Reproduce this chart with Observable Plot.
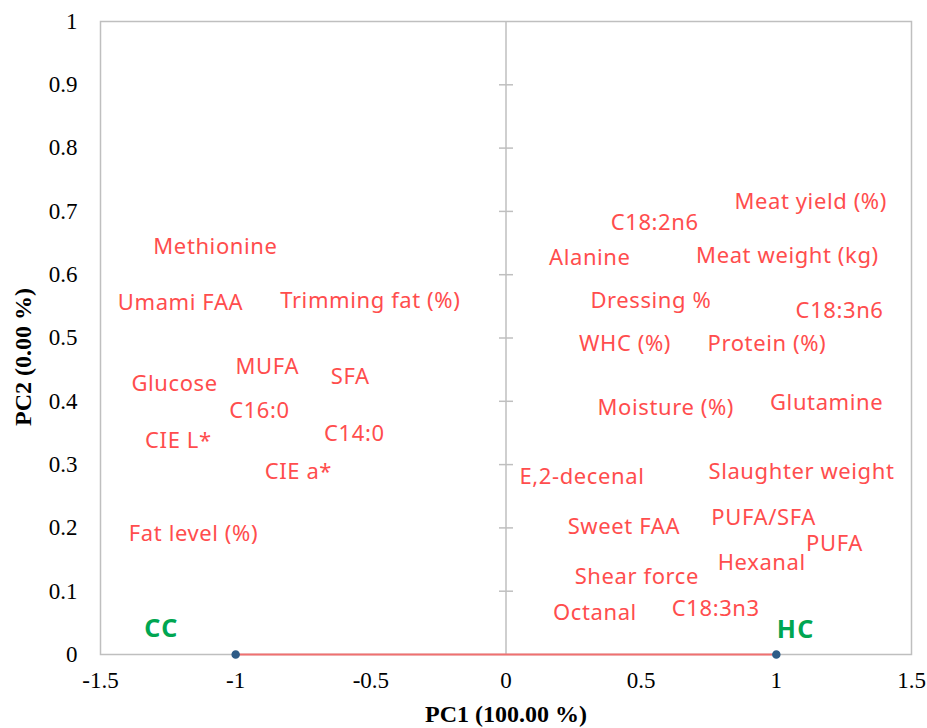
<!DOCTYPE html>
<html>
<head>
<meta charset="utf-8">
<script src="https://cdn.jsdelivr.net/npm/d3@7"></script>
<script src="https://cdn.jsdelivr.net/npm/@observablehq/plot@0.6"></script>
<style>
  html, body { margin: 0; padding: 0; background: #fff; }
  #chart g[fill="#FF4D4D" i] text { letter-spacing: 0.6px; }
  #chart g[fill="#00A651" i] text { letter-spacing: 1.5px; }
</style>
</head>
<body>
<div id="chart"></div>
<script>
// Variable labels (loadings) positions
const varNames = ["Methionine","Umami FAA","Trimming fat (%)","Glucose","MUFA","SFA","C16:0","C14:0","CIE L*","CIE a*","Fat level (%)",
  "Meat yield (%)","C18:2n6","Alanine","Meat weight (kg)","Dressing %","C18:3n6","WHC (%)","Protein (%)","Moisture (%)","Glutamine",
  "E,2-decenal","Slaughter weight","Sweet FAA","PUFA/SFA","PUFA","Hexanal","Shear force","Octanal","C18:3n3"];
const varPC1 = [-1.075,-1.204,-0.502,-1.226,-0.883,-0.576,-0.912,-0.561,-1.212,-0.768,-1.156,
  1.127,0.550,0.310,1.041,0.536,1.234,0.440,0.965,0.591,1.186,
  0.281,1.093,0.436,0.953,1.215,0.946,0.484,0.329,0.776];
const varPC2 = [0.644,0.556,0.558,0.427,0.455,0.439,0.384,0.348,0.338,0.288,0.191,
  0.715,0.681,0.626,0.629,0.558,0.543,0.490,0.491,0.390,0.398,
  0.281,0.289,0.201,0.216,0.174,0.145,0.122,0.066,0.072];

// Group scores
const groups = ["CC","HC"];
const groupPC1 = [-1, 1];
const groupPC2 = [0, 0];
// Group label positions
const groupLabelPC1 = [-1.274, 1.072];
const groupLabelPC2 = [0.041, 0.038];

const xTicks = [-1.5,-1,-0.5,0,0.5,1,1.5];
const yTicks = [0,0.1,0.2,0.3,0.4,0.5,0.6,0.7,0.8,0.9,1];
const xTitle = "PC1 (100.00 %)";
const yTitle = "PC2 (0.00 %)";

const vars = varNames.map((n,i)=>({name:n, x:varPC1[i], y:varPC2[i]}));
const pts = groups.map((g,i)=>({name:g, x:groupPC1[i], y:groupPC2[i], lx:groupLabelPC1[i], ly:groupLabelPC2[i]}));

const hTick = { draw(ctx, size) { const r = Math.sqrt(size/Math.PI); ctx.moveTo(-r,0); ctx.lineTo(r,0); } };

const serif = "'Liberation Serif', 'Times New Roman', serif";
const gray = "#BFBFBF";

const chart = Plot.plot({
  width: 927,
  height: 728,
  marginLeft: 100,
  marginRight: 16,
  marginTop: 21,
  marginBottom: 74,
  style: { fontFamily: serif, fontSize: "23px", color: "#000", background: "#fff" },
  x: { domain: [-1.5, 1.5] },
  y: { domain: [0, 1] },
  marks: [
    Plot.frame({ stroke: gray, strokeWidth: 1.5 }),
    Plot.ruleX([0], { stroke: gray, strokeWidth: 1.5 }),
    Plot.dot(yTicks.slice(1, -1), { x: 0, y: d => d, symbol: hTick, r: 7, stroke: gray, strokeWidth: 1.5 }),
    Plot.axisX({ ticks: xTicks, tickSize: 0, tickPadding: 17, tickFormat: d => String(d), label: null, fontFamily: serif, fontSize: 23 }),
    Plot.axisY({ ticks: yTicks, tickSize: 0, tickPadding: 23, tickFormat: d => String(d), label: null, fontFamily: serif, fontSize: 23 }),
    Plot.line(pts, { x: "x", y: "y", stroke: "#F07070", strokeWidth: 2 }),
    Plot.dot(pts, { x: "x", y: "y", r: 3.5, fill: "#2E5C87", stroke: "#2E5C87" }),
    Plot.text(vars, { x: "x", y: "y", text: "name", fill: "#FF4D4D", fontFamily: "'Noto Sans', sans-serif", fontSize: 22 }),
    Plot.text(pts, { x: "lx", y: "ly", text: "name", fill: "#00A651", fontFamily: "'Noto Sans', sans-serif", fontSize: 25, fontWeight: "bold" }),
    Plot.text([xTitle], { text: d => d, frameAnchor: "bottom", dy: 67, fontFamily: serif, fontSize: 24, fontWeight: "bold", fill: "#000" }),
    Plot.text([yTitle], { text: d => d, frameAnchor: "left", dx: -77, dy: 88, rotate: -90, fontFamily: serif, fontSize: 24, fontWeight: "bold", fill: "#000" })
  ]
});
document.getElementById("chart").appendChild(chart);
</script>
</body>
</html>
